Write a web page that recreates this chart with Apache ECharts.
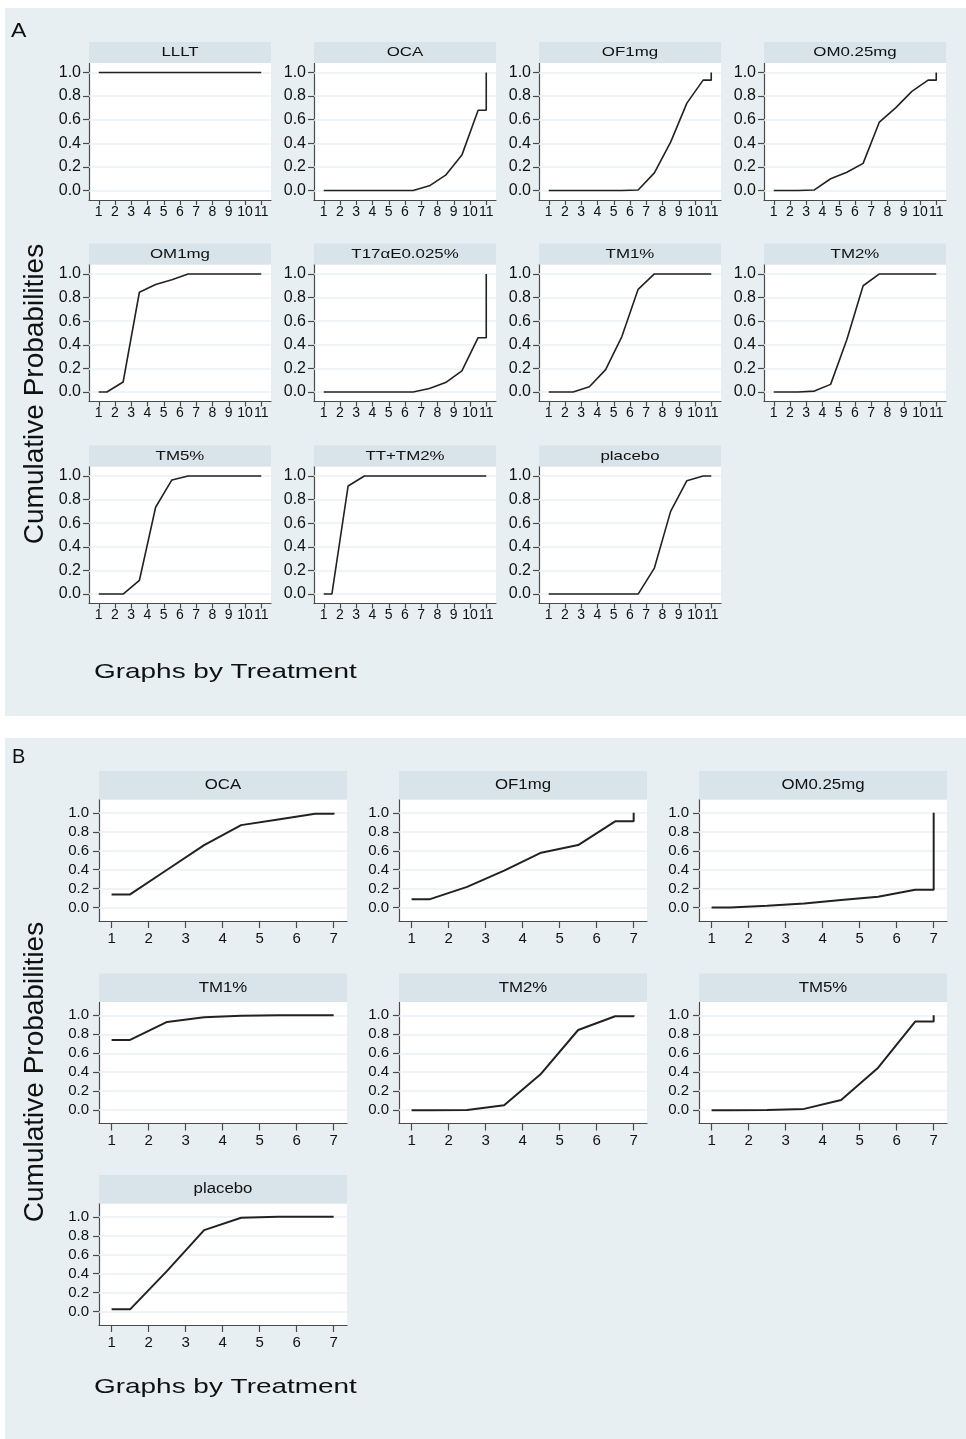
<!DOCTYPE html>
<html><head><meta charset="utf-8">
<script src="https://cdn.jsdelivr.net/npm/echarts@6/dist/echarts.min.js"></script>
<style>html,body{margin:0;padding:0;background:#fff}#c{width:966px;height:1439px}</style>
</head><body><div id="c"></div>
<script>
// ---------- data ----------
const yTicks = [0, 0.2, 0.4, 0.6, 0.8, 1.0];
const ranksA = [1, 2, 3, 4, 5, 6, 7, 8, 9, 10, 11];
const ranksB = [1, 2, 3, 4, 5, 6, 7];

const treatmentsA = ['LLLT', 'OCA', 'OF1mg', 'OM0.25mg', 'OM1mg', 'T17αE0.025%', 'TM1%', 'TM2%', 'TM5%', 'TT+TM2%', 'placebo'];
const A_LLLT    = [1, 1, 1, 1, 1, 1, 1, 1, 1, 1, 1];
const A_OCA     = [0, 0, 0, 0, 0, 0, 0.04, 0.13, 0.30, 0.68, 1];
const A_OF1mg   = [0, 0, 0, 0, 0, 0.005, 0.15, 0.41, 0.74, 0.935, 1];
const A_OM025mg = [0, 0, 0.005, 0.10, 0.155, 0.23, 0.58, 0.70, 0.84, 0.935, 1];
const A_OM1mg   = [0, 0.085, 0.845, 0.91, 0.95, 1, 1, 1, 1, 1, 1];
const A_T17aE   = [0, 0, 0, 0, 0, 0, 0.03, 0.08, 0.18, 0.46, 1];
const A_TM1     = [0, 0, 0.045, 0.19, 0.47, 0.87, 1, 1, 1, 1, 1];
const A_TM2     = [0, 0, 0.008, 0.065, 0.445, 0.90, 1, 1, 1, 1, 1];
const A_TM5     = [0, 0, 0.115, 0.735, 0.966, 1, 1, 1, 1, 1, 1];
const A_TTTM2   = [0, 0.915, 1, 1, 1, 1, 1, 1, 1, 1, 1];
const A_placebo = [0, 0, 0, 0, 0, 0, 0.22, 0.70, 0.96, 1, 1];
const seriesA = [A_LLLT, A_OCA, A_OF1mg, A_OM025mg, A_OM1mg, A_T17aE, A_TM1, A_TM2, A_TM5, A_TTTM2, A_placebo];

const treatmentsB = ['OCA', 'OF1mg', 'OM0.25mg', 'TM1%', 'TM2%', 'TM5%', 'placebo'];
const B_OCA     = [0.14, 0.40, 0.66, 0.87, 0.93, 0.99, 1];
const B_OF1mg   = [0.09, 0.22, 0.39, 0.58, 0.66, 0.91, 1];
const B_OM025mg = [0.003, 0.02, 0.045, 0.08, 0.115, 0.19, 1];
const B_TM1     = [0.74, 0.93, 0.98, 0.995, 1, 1, 1];
const B_TM2     = [0, 0.002, 0.052, 0.385, 0.845, 0.99, 1];
const B_TM5     = [0, 0.002, 0.014, 0.108, 0.448, 0.934, 1];
const B_placebo = [0.025, 0.43, 0.86, 0.99, 1, 1, 1];
const seriesB = [B_OCA, B_OF1mg, B_OM025mg, B_TM1, B_TM2, B_TM5, B_placebo];

// ---------- helpers ----------
// Stata-style cumulative rankogram: value k drawn at rank k+0.5, final jump at last rank
function rankPath(ranks, vals) {
  const n = ranks.length;
  const pts = [[ranks[0], vals[0]]];
  for (let i = 0; i < n - 1; i++) pts.push([ranks[i] + 0.5, vals[i]]);
  pts.push([ranks[n - 1], vals[n - 2]]);
  pts.push([ranks[n - 1], vals[n - 1]]);
  return pts;
}

const FONT = '"Liberation Sans", Arial, Helvetica, sans-serif';
const TXT = '#111';
const AX = '#4a4a4a';
const BG = '#e8eff2';
const STRIP = '#d8e4ea';
const GRIDC = '#e9f1f4';

const grids = [], xAxes = [], yAxes = [], series = [], graphics = [];

graphics.push({ type: 'rect', z: -10, shape: { x: 5, y: 8, width: 961, height: 708 }, style: { fill: BG } });
graphics.push({ type: 'rect', z: -10, shape: { x: 5, y: 738, width: 961, height: 701 }, style: { fill: BG } });

function addPanel(cfg) {
  const idx = grids.length;
  grids.push({ left: cfg.left, top: cfg.top, width: cfg.w, height: cfg.h, show: true, backgroundColor: '#fff', borderWidth: 0 });
  xAxes.push({
    type: 'value', gridIndex: idx, min: cfg.xmin, max: cfg.xmax,
    axisLine: { show: true, onZero: false, lineStyle: { color: AX, width: 1.2 } },
    axisTick: { show: true, length: cfg.tickLen, customValues: cfg.ranks, lineStyle: { color: AX, width: 1.2 } },
    axisLabel: { customValues: cfg.ranks, hideOverlap: false, showMinLabel: true, showMaxLabel: true, margin: cfg.xMargin, fontSize: cfg.xfs, color: TXT, fontFamily: FONT },
    splitLine: { show: false }
  });
  yAxes.push({
    type: 'value', gridIndex: idx, min: cfg.ymin, max: cfg.ymax,
    axisLine: { show: true, onZero: false, lineStyle: { color: AX, width: 1.2 } },
    axisTick: { show: true, length: 6, customValues: yTicks, lineStyle: { color: AX, width: 1.2 } },
    axisLabel: { customValues: yTicks, hideOverlap: false, margin: cfg.yMargin, fontSize: cfg.fs, color: TXT, fontFamily: FONT, formatter: v => v.toFixed(1) },
    splitLine: { show: false }
  });
  series.push({
    type: 'line', xAxisIndex: idx, yAxisIndex: idx, data: [], z: 1, silent: true,
    markLine: {
      z: 1, silent: true, symbol: 'none', animation: false, label: { show: false },
      lineStyle: { color: GRIDC, width: 1.5, type: 'solid' },
      emphasis: { disabled: true },
      data: yTicks.map(v => ({ yAxis: v }))
    }
  });
  series.push({
    type: 'line', xAxisIndex: idx, yAxisIndex: idx, z: 10,
    data: rankPath(cfg.ranks, cfg.vals), showSymbol: false, symbol: 'none',
    lineStyle: { color: '#222', width: cfg.lw }
  });
  graphics.push({ type: 'rect', z: 5, shape: { x: cfg.left, y: cfg.top - cfg.stripH, width: cfg.w, height: cfg.stripH }, style: { fill: STRIP } });
  graphics.push({
    type: 'text', z: 6, x: cfg.left + cfg.w / 2, y: cfg.top - cfg.stripH / 2, scaleX: cfg.stripScale,
    style: { text: cfg.name, fontSize: cfg.stripFs, fontFamily: FONT, fill: TXT, align: 'center', verticalAlign: 'middle' }
  });
}

// Panel A layout
const colsA = [89, 314, 539, 764], rowsA = [63, 264.5, 466.5];
treatmentsA.forEach((name, i) => {
  addPanel({
    name, vals: seriesA[i], ranks: ranksA,
    left: colsA[i % 4], top: rowsA[Math.floor(i / 4)], w: 182, h: 137, stripH: 21,
    xmin: 0.4, xmax: 11.6, ymin: -0.08, ymax: 1.08,
    fs: 16, xfs: 14, xMargin: 5, yMargin: 8, tickLen: 5, lw: 1.6, stripFs: 13.5, stripScale: 1.25
  });
});

// Panel B layout
const colsB = [99, 399, 699], rowsB = [799.5, 1002, 1203.5];
treatmentsB.forEach((name, i) => {
  addPanel({
    name, vals: seriesB[i], ranks: ranksB,
    left: colsB[i % 3], top: rowsB[Math.floor(i / 3)], w: 248, h: 121.5, stripH: 28.5,
    xmin: 0.66, xmax: 7.36, ymin: -0.14, ymax: 1.14,
    fs: 15, xfs: 15, xMargin: 10, yMargin: 10, tickLen: 7, lw: 2, stripFs: 14, stripScale: 1.2
  });
});

// Titles
graphics.push({ type: 'text', z: 6, x: 11, y: 31, scaleX: 1.15, style: { text: 'A', fontSize: 20, fontFamily: FONT, fill: TXT, align: 'left', verticalAlign: 'middle' } });
graphics.push({ type: 'text', z: 6, x: 12, y: 757, style: { text: 'B', fontSize: 20, fontFamily: FONT, fill: TXT, align: 'left', verticalAlign: 'middle' } });
[394, 1072].forEach(cy => {
  graphics.push({ type: 'text', z: 6, x: 35, y: cy, rotation: Math.PI / 2, style: { text: 'Cumulative Probabilities', fontSize: 28, fontFamily: FONT, fill: TXT, align: 'center', verticalAlign: 'middle' } });
});
[672, 1387].forEach(cy => {
  graphics.push({ type: 'text', z: 6, x: 94, y: cy, scaleX: 1.33, style: { text: 'Graphs by Treatment', fontSize: 21, fontFamily: FONT, fill: TXT, align: 'left', verticalAlign: 'middle' } });
});

const chart = echarts.init(document.getElementById('c'), null, { renderer: 'canvas' });
chart.setOption({
  backgroundColor: '#fff',
  animation: false,
  grid: grids, xAxis: xAxes, yAxis: yAxes, series: series,
  graphic: { elements: graphics }
});
</script>
</body></html>
